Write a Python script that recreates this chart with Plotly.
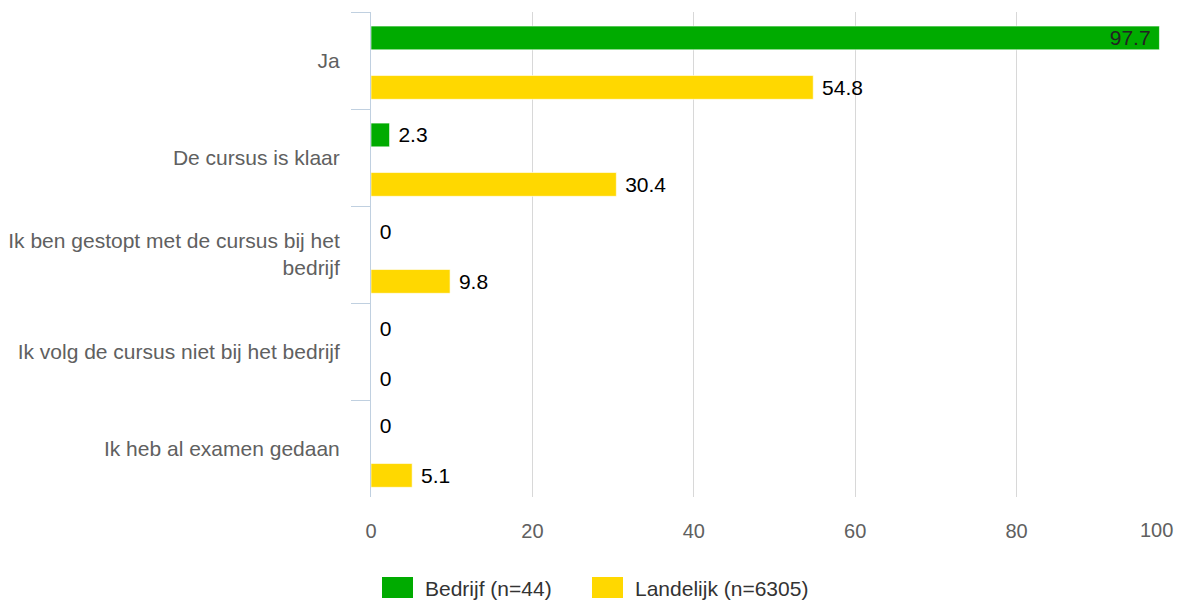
import plotly.graph_objects as go

categories = ["Ja", "De cursus is klaar", "Ik ben gestopt met de cursus bij het<br>bedrijf",
              "Ik volg de cursus niet bij het bedrijf", "Ik heb al examen gedaan"]
bedrijf = [97.7, 2.3, 0, 0, 0]
landelijk = [54.8, 30.4, 9.8, 0, 5.1]
series_names = ["Bedrijf (n=44)", "Landelijk (n=6305)"]
x_ticks = [0, 20, 40, 60, 80, 100]

GREEN = "#00AB00"
YELLOW = "#FFD800"
FONT = "Liberation Sans, Arial, sans-serif"
NBSP = "\u00a0"

# figure geometry (page body adds an 8px offset)
W, H = 1175, 596
ML, MR, MT, MB = 363, 5, 4, 107
PW, PH = W - ML - MR, H - MT - MB
BAR_W = 0.245


def fmt(v):
    return f"{v:g}"


def label(v):
    return fmt(v) + NBSP if v > 90 else NBSP + fmt(v)


def positions(vals):
    return ["inside" if v > 90 else "outside" for v in vals]


fig = go.Figure()
for name, vals, col, off in [(series_names[0], bedrijf, GREEN, -0.355),
                             (series_names[1], landelijk, YELLOW, 0.155)]:
    fig.add_trace(go.Bar(
        y=categories, x=vals, orientation="h", name=name,
        width=BAR_W, offset=off,
        marker=dict(color=col, line=dict(color="rgba(255,255,255,0.6)", width=1)),
        text=[label(v) for v in vals], textposition=positions(vals),
        insidetextanchor="end", cliponaxis=False, constraintext="none",
        textfont=dict(family=FONT, size=21, color="#000000"),
        insidetextfont=dict(family=FONT, size=21, color="#222222"),
        outsidetextfont=dict(family=FONT, size=21, color="#000000"),
        hoverinfo="x+y", showlegend=False,
    ))

fig.update_layout(
    width=W, height=H,
    margin=dict(l=ML, r=MR, t=MT, b=MB, autoexpand=False),
    paper_bgcolor="white", plot_bgcolor="white",
    barmode="group", bargap=0.0, bargroupgap=0.5,
    font=dict(family=FONT, size=21, color="#606060"),
    showlegend=False,
    uniformtext=dict(minsize=21, mode="show"),
)

fig.update_yaxes(
    autorange="reversed", showgrid=False,
    showline=True, linecolor="#C0D0E0", linewidth=1,
    ticks="outside", tickson="boundaries", ticklen=19, tickcolor="#C0D0E0",
    ticklabelstandoff=26, automargin=False,
    tickfont=dict(family=FONT, size=21, color="#606060"),
)

fig.update_xaxes(
    range=[0, 100], tickvals=x_ticks[:-1], ticktext=[str(t) for t in x_ticks[:-1]],
    showgrid=True, gridcolor="#D8D8D8", gridwidth=1,
    showline=False, zeroline=False, ticks="", ticklabelstandoff=20, automargin=False,
    tickfont=dict(family=FONT, size=20, color="#606060"),
)
# extra gridline at 100 and a label shifted inside like the reference
fig.add_shape(type="line", xref="x", yref="paper", x0=x_ticks[-1], x1=x_ticks[-1], y0=0, y1=1,
              line=dict(color="#D8D8D8", width=1), layer="below")
fig.add_annotation(x=x_ticks[-1], xref="x", y=0, yref="paper", yshift=-33, xshift=-3,
                   text=str(x_ticks[-1]), showarrow=False, xanchor="right", yanchor="middle",
                   font=dict(family=FONT, size=20, color="#606060"))


# custom legend with larger swatches
def px_x(px):
    return (px - ML) / PW


def px_y(py):
    return (H - MB - py) / PH


legend_items = [(series_names[0], GREEN, 374), (series_names[1], YELLOW, 584)]
for name, col, x0 in legend_items:
    fig.add_shape(type="rect", xref="paper", yref="paper",
                  x0=px_x(x0), x1=px_x(x0 + 31), y0=px_y(590), y1=px_y(569),
                  fillcolor=col, line=dict(width=0))
    fig.add_annotation(xref="paper", yref="paper", x=px_x(x0 + 41), y=px_y(580),
                       text=name, showarrow=False, xanchor="left", yanchor="middle",
                       font=dict(family=FONT, size=21, color="#333333"))

fig.write_html("out.html")
